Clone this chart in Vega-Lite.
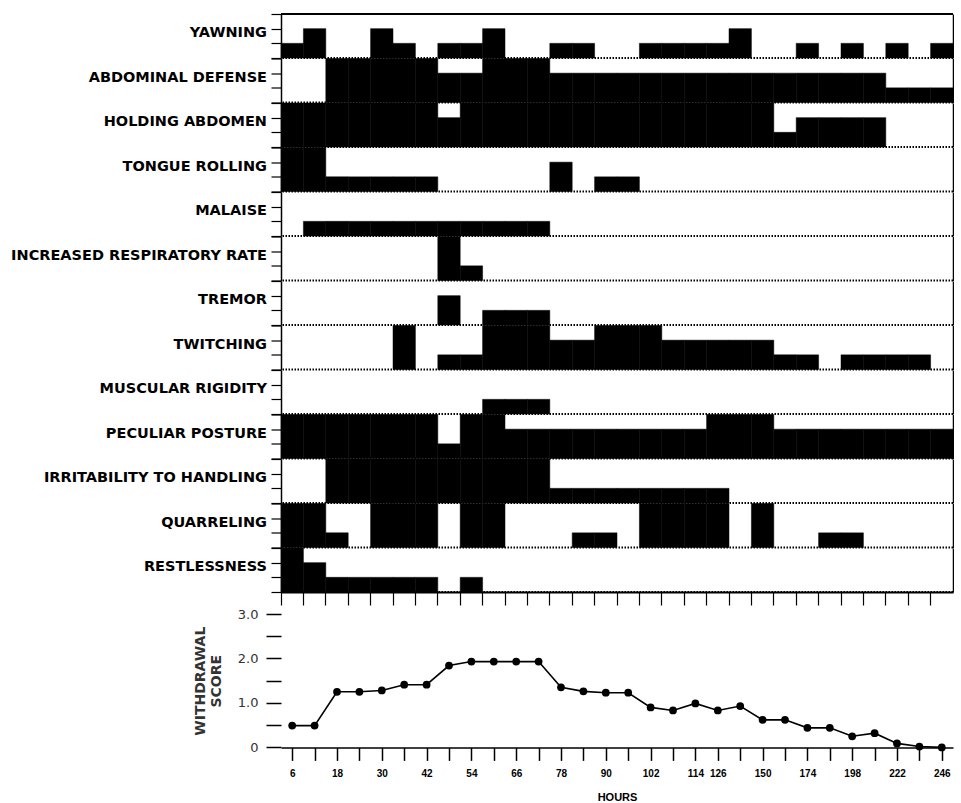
{
"$schema": "https://vega.github.io/schema/vega-lite/v6.json",
"background": "white",
"padding": {"left": 11, "top": 13, "right": 0, "bottom": 0},
"spacing": 2,
"config": {"view": {"stroke": null}, "font": "DejaVu Sans", "axis": {"domainColor": "black", "tickColor": "black", "labelColor": "black", "titleColor": "black"}},
"datasets": {
"symptoms": [
{"symptom":"YAWNING","hour":6,"level":1},{"symptom":"YAWNING","hour":12,"level":2},{"symptom":"YAWNING","hour":30,"level":2},{"symptom":"YAWNING","hour":36,"level":1},{"symptom":"YAWNING","hour":48,"level":1},{"symptom":"YAWNING","hour":54,"level":1},{"symptom":"YAWNING","hour":60,"level":2},{"symptom":"YAWNING","hour":78,"level":1},{"symptom":"YAWNING","hour":84,"level":1},{"symptom":"YAWNING","hour":102,"level":1},{"symptom":"YAWNING","hour":108,"level":1},{"symptom":"YAWNING","hour":114,"level":1},{"symptom":"YAWNING","hour":126,"level":1},{"symptom":"YAWNING","hour":138,"level":2},{"symptom":"YAWNING","hour":174,"level":1},{"symptom":"YAWNING","hour":198,"level":1},{"symptom":"YAWNING","hour":222,"level":1},{"symptom":"YAWNING","hour":246,"level":1},
{"symptom":"ABDOMINAL DEFENSE","hour":18,"level":3},{"symptom":"ABDOMINAL DEFENSE","hour":24,"level":3},{"symptom":"ABDOMINAL DEFENSE","hour":30,"level":3},{"symptom":"ABDOMINAL DEFENSE","hour":36,"level":3},{"symptom":"ABDOMINAL DEFENSE","hour":42,"level":3},{"symptom":"ABDOMINAL DEFENSE","hour":48,"level":2},{"symptom":"ABDOMINAL DEFENSE","hour":54,"level":2},{"symptom":"ABDOMINAL DEFENSE","hour":60,"level":3},{"symptom":"ABDOMINAL DEFENSE","hour":66,"level":3},{"symptom":"ABDOMINAL DEFENSE","hour":72,"level":3},{"symptom":"ABDOMINAL DEFENSE","hour":78,"level":2},{"symptom":"ABDOMINAL DEFENSE","hour":84,"level":2},{"symptom":"ABDOMINAL DEFENSE","hour":90,"level":2},{"symptom":"ABDOMINAL DEFENSE","hour":96,"level":2},{"symptom":"ABDOMINAL DEFENSE","hour":102,"level":2},{"symptom":"ABDOMINAL DEFENSE","hour":108,"level":2},{"symptom":"ABDOMINAL DEFENSE","hour":114,"level":2},{"symptom":"ABDOMINAL DEFENSE","hour":126,"level":2},{"symptom":"ABDOMINAL DEFENSE","hour":138,"level":2},{"symptom":"ABDOMINAL DEFENSE","hour":150,"level":2},{"symptom":"ABDOMINAL DEFENSE","hour":162,"level":2},{"symptom":"ABDOMINAL DEFENSE","hour":174,"level":2},{"symptom":"ABDOMINAL DEFENSE","hour":186,"level":2},{"symptom":"ABDOMINAL DEFENSE","hour":198,"level":2},{"symptom":"ABDOMINAL DEFENSE","hour":210,"level":2},{"symptom":"ABDOMINAL DEFENSE","hour":222,"level":1},{"symptom":"ABDOMINAL DEFENSE","hour":234,"level":1},{"symptom":"ABDOMINAL DEFENSE","hour":246,"level":1},
{"symptom":"HOLDING ABDOMEN","hour":6,"level":3},{"symptom":"HOLDING ABDOMEN","hour":12,"level":3},{"symptom":"HOLDING ABDOMEN","hour":18,"level":3},{"symptom":"HOLDING ABDOMEN","hour":24,"level":3},{"symptom":"HOLDING ABDOMEN","hour":30,"level":3},{"symptom":"HOLDING ABDOMEN","hour":36,"level":3},{"symptom":"HOLDING ABDOMEN","hour":42,"level":3},{"symptom":"HOLDING ABDOMEN","hour":48,"level":2},{"symptom":"HOLDING ABDOMEN","hour":54,"level":3},{"symptom":"HOLDING ABDOMEN","hour":60,"level":3},{"symptom":"HOLDING ABDOMEN","hour":66,"level":3},{"symptom":"HOLDING ABDOMEN","hour":72,"level":3},{"symptom":"HOLDING ABDOMEN","hour":78,"level":3},{"symptom":"HOLDING ABDOMEN","hour":84,"level":3},{"symptom":"HOLDING ABDOMEN","hour":90,"level":3},{"symptom":"HOLDING ABDOMEN","hour":96,"level":3},{"symptom":"HOLDING ABDOMEN","hour":102,"level":3},{"symptom":"HOLDING ABDOMEN","hour":108,"level":3},{"symptom":"HOLDING ABDOMEN","hour":114,"level":3},{"symptom":"HOLDING ABDOMEN","hour":126,"level":3},{"symptom":"HOLDING ABDOMEN","hour":138,"level":3},{"symptom":"HOLDING ABDOMEN","hour":150,"level":3},{"symptom":"HOLDING ABDOMEN","hour":162,"level":1},{"symptom":"HOLDING ABDOMEN","hour":174,"level":2},{"symptom":"HOLDING ABDOMEN","hour":186,"level":2},{"symptom":"HOLDING ABDOMEN","hour":198,"level":2},{"symptom":"HOLDING ABDOMEN","hour":210,"level":2},
{"symptom":"TONGUE ROLLING","hour":6,"level":3},{"symptom":"TONGUE ROLLING","hour":12,"level":3},{"symptom":"TONGUE ROLLING","hour":18,"level":1},{"symptom":"TONGUE ROLLING","hour":24,"level":1},{"symptom":"TONGUE ROLLING","hour":30,"level":1},{"symptom":"TONGUE ROLLING","hour":36,"level":1},{"symptom":"TONGUE ROLLING","hour":42,"level":1},{"symptom":"TONGUE ROLLING","hour":78,"level":2},{"symptom":"TONGUE ROLLING","hour":90,"level":1},{"symptom":"TONGUE ROLLING","hour":96,"level":1},
{"symptom":"MALAISE","hour":12,"level":1},{"symptom":"MALAISE","hour":18,"level":1},{"symptom":"MALAISE","hour":24,"level":1},{"symptom":"MALAISE","hour":30,"level":1},{"symptom":"MALAISE","hour":36,"level":1},{"symptom":"MALAISE","hour":42,"level":1},{"symptom":"MALAISE","hour":48,"level":1},{"symptom":"MALAISE","hour":54,"level":1},{"symptom":"MALAISE","hour":60,"level":1},{"symptom":"MALAISE","hour":66,"level":1},{"symptom":"MALAISE","hour":72,"level":1},
{"symptom":"INCREASED RESPIRATORY RATE","hour":48,"level":3},{"symptom":"INCREASED RESPIRATORY RATE","hour":54,"level":1},
{"symptom":"TREMOR","hour":48,"level":2},{"symptom":"TREMOR","hour":60,"level":1},{"symptom":"TREMOR","hour":66,"level":1},{"symptom":"TREMOR","hour":72,"level":1},
{"symptom":"TWITCHING","hour":36,"level":3},{"symptom":"TWITCHING","hour":48,"level":1},{"symptom":"TWITCHING","hour":54,"level":1},{"symptom":"TWITCHING","hour":60,"level":3},{"symptom":"TWITCHING","hour":66,"level":3},{"symptom":"TWITCHING","hour":72,"level":3},{"symptom":"TWITCHING","hour":78,"level":2},{"symptom":"TWITCHING","hour":84,"level":2},{"symptom":"TWITCHING","hour":90,"level":3},{"symptom":"TWITCHING","hour":96,"level":3},{"symptom":"TWITCHING","hour":102,"level":3},{"symptom":"TWITCHING","hour":108,"level":2},{"symptom":"TWITCHING","hour":114,"level":2},{"symptom":"TWITCHING","hour":126,"level":2},{"symptom":"TWITCHING","hour":138,"level":2},{"symptom":"TWITCHING","hour":150,"level":2},{"symptom":"TWITCHING","hour":162,"level":1},{"symptom":"TWITCHING","hour":174,"level":1},{"symptom":"TWITCHING","hour":198,"level":1},{"symptom":"TWITCHING","hour":210,"level":1},{"symptom":"TWITCHING","hour":222,"level":1},{"symptom":"TWITCHING","hour":234,"level":1},
{"symptom":"MUSCULAR RIGIDITY","hour":60,"level":1},{"symptom":"MUSCULAR RIGIDITY","hour":66,"level":1},{"symptom":"MUSCULAR RIGIDITY","hour":72,"level":1},
{"symptom":"PECULIAR POSTURE","hour":6,"level":3},{"symptom":"PECULIAR POSTURE","hour":12,"level":3},{"symptom":"PECULIAR POSTURE","hour":18,"level":3},{"symptom":"PECULIAR POSTURE","hour":24,"level":3},{"symptom":"PECULIAR POSTURE","hour":30,"level":3},{"symptom":"PECULIAR POSTURE","hour":36,"level":3},{"symptom":"PECULIAR POSTURE","hour":42,"level":3},{"symptom":"PECULIAR POSTURE","hour":48,"level":1},{"symptom":"PECULIAR POSTURE","hour":54,"level":3},{"symptom":"PECULIAR POSTURE","hour":60,"level":3},{"symptom":"PECULIAR POSTURE","hour":66,"level":2},{"symptom":"PECULIAR POSTURE","hour":72,"level":2},{"symptom":"PECULIAR POSTURE","hour":78,"level":2},{"symptom":"PECULIAR POSTURE","hour":84,"level":2},{"symptom":"PECULIAR POSTURE","hour":90,"level":2},{"symptom":"PECULIAR POSTURE","hour":96,"level":2},{"symptom":"PECULIAR POSTURE","hour":102,"level":2},{"symptom":"PECULIAR POSTURE","hour":108,"level":2},{"symptom":"PECULIAR POSTURE","hour":114,"level":2},{"symptom":"PECULIAR POSTURE","hour":126,"level":3},{"symptom":"PECULIAR POSTURE","hour":138,"level":3},{"symptom":"PECULIAR POSTURE","hour":150,"level":3},{"symptom":"PECULIAR POSTURE","hour":162,"level":2},{"symptom":"PECULIAR POSTURE","hour":174,"level":2},{"symptom":"PECULIAR POSTURE","hour":186,"level":2},{"symptom":"PECULIAR POSTURE","hour":198,"level":2},{"symptom":"PECULIAR POSTURE","hour":210,"level":2},{"symptom":"PECULIAR POSTURE","hour":222,"level":2},{"symptom":"PECULIAR POSTURE","hour":234,"level":2},{"symptom":"PECULIAR POSTURE","hour":246,"level":2},
{"symptom":"IRRITABILITY TO HANDLING","hour":18,"level":3},{"symptom":"IRRITABILITY TO HANDLING","hour":24,"level":3},{"symptom":"IRRITABILITY TO HANDLING","hour":30,"level":3},{"symptom":"IRRITABILITY TO HANDLING","hour":36,"level":3},{"symptom":"IRRITABILITY TO HANDLING","hour":42,"level":3},{"symptom":"IRRITABILITY TO HANDLING","hour":48,"level":3},{"symptom":"IRRITABILITY TO HANDLING","hour":54,"level":3},{"symptom":"IRRITABILITY TO HANDLING","hour":60,"level":3},{"symptom":"IRRITABILITY TO HANDLING","hour":66,"level":3},{"symptom":"IRRITABILITY TO HANDLING","hour":72,"level":3},{"symptom":"IRRITABILITY TO HANDLING","hour":78,"level":1},{"symptom":"IRRITABILITY TO HANDLING","hour":84,"level":1},{"symptom":"IRRITABILITY TO HANDLING","hour":90,"level":1},{"symptom":"IRRITABILITY TO HANDLING","hour":96,"level":1},{"symptom":"IRRITABILITY TO HANDLING","hour":102,"level":1},{"symptom":"IRRITABILITY TO HANDLING","hour":108,"level":1},{"symptom":"IRRITABILITY TO HANDLING","hour":114,"level":1},{"symptom":"IRRITABILITY TO HANDLING","hour":126,"level":1},
{"symptom":"QUARRELING","hour":6,"level":3},{"symptom":"QUARRELING","hour":12,"level":3},{"symptom":"QUARRELING","hour":18,"level":1},{"symptom":"QUARRELING","hour":30,"level":3},{"symptom":"QUARRELING","hour":36,"level":3},{"symptom":"QUARRELING","hour":42,"level":3},{"symptom":"QUARRELING","hour":54,"level":3},{"symptom":"QUARRELING","hour":60,"level":3},{"symptom":"QUARRELING","hour":84,"level":1},{"symptom":"QUARRELING","hour":90,"level":1},{"symptom":"QUARRELING","hour":102,"level":3},{"symptom":"QUARRELING","hour":108,"level":3},{"symptom":"QUARRELING","hour":114,"level":3},{"symptom":"QUARRELING","hour":126,"level":3},{"symptom":"QUARRELING","hour":150,"level":3},{"symptom":"QUARRELING","hour":186,"level":1},{"symptom":"QUARRELING","hour":198,"level":1},
{"symptom":"RESTLESSNESS","hour":6,"level":3},{"symptom":"RESTLESSNESS","hour":12,"level":2},{"symptom":"RESTLESSNESS","hour":18,"level":1},{"symptom":"RESTLESSNESS","hour":24,"level":1},{"symptom":"RESTLESSNESS","hour":30,"level":1},{"symptom":"RESTLESSNESS","hour":36,"level":1},{"symptom":"RESTLESSNESS","hour":42,"level":1},{"symptom":"RESTLESSNESS","hour":54,"level":1}
],
"score": [
{"hour":6,"score":0.49},{"hour":12,"score":0.49},{"hour":18,"score":1.25},{"hour":24,"score":1.25},{"hour":30,"score":1.28},{"hour":36,"score":1.41},{"hour":42,"score":1.41},{"hour":48,"score":1.84},{"hour":54,"score":1.93},{"hour":60,"score":1.93},{"hour":66,"score":1.93},{"hour":72,"score":1.93},{"hour":78,"score":1.35},{"hour":84,"score":1.26},{"hour":90,"score":1.23},{"hour":96,"score":1.23},{"hour":102,"score":0.9},{"hour":108,"score":0.83},{"hour":114,"score":0.99},{"hour":126,"score":0.83},{"hour":138,"score":0.93},{"hour":150,"score":0.62},{"hour":162,"score":0.62},{"hour":174,"score":0.44},{"hour":186,"score":0.44},{"hour":198,"score":0.25},{"hour":210,"score":0.32},{"hour":222,"score":0.09},{"hour":234,"score":0.02},{"hour":246,"score":0.0}
]
},
"vconcat": [
{
"data": {"name": "symptoms"},
"facet": {"row": {"field": "symptom", "type": "nominal",
  "sort": ["YAWNING","ABDOMINAL DEFENSE","HOLDING ABDOMEN","TONGUE ROLLING","MALAISE","INCREASED RESPIRATORY RATE","TREMOR","TWITCHING","MUSCULAR RIGIDITY","PECULIAR POSTURE","IRRITABILITY TO HANDLING","QUARRELING","RESTLESSNESS"],
  "header": {"title": null, "labels": false}}},
"spacing": {"row": 0.5},
"bounds": "flush",
"spec": {
  "width": 672, "height": 44,
  "resolve": {"axis": {"x": "independent", "y": "independent"}},
  "layer": [
    {"mark": {"type": "bar", "color": "black", "stroke": "black", "strokeWidth": 0.5},
     "encoding": {
       "x": {"field": "hour", "type": "ordinal",
             "scale": {"domain": [6,12,18,24,30,36,42,48,54,60,66,72,78,84,90,96,102,108,114,126,138,150,162,174,186,198,210,222,234,246], "paddingInner": 0, "paddingOuter": 0},
             "axis": {"bandPosition": 0, "labels": false, "title": null, "tickSize": 13, "tickWidth": 1.2, "domainWidth": 2, "grid": false}},
       "y": {"field": "level", "type": "quantitative", "scale": {"domain": [0, 3], "nice": false},
             "axis": {"values": [0, 1, 2, 3], "labels": false, "title": null, "tickSize": 10, "tickWidth": 1.2, "domainWidth": 1.5, "grid": false}}
     }},
    {"transform": [{"aggregate": [{"op": "count", "as": "n"}], "groupby": ["symptom"]}],
     "mark": {"type": "rule", "color": "black", "strokeWidth": 2, "strokeDash": [1.5, 1.5]},
     "encoding": {"y": {"datum": 0, "type": "quantitative", "axis": {"orient": "right", "labels": false, "ticks": false, "title": null, "grid": false, "domainWidth": 1.5}}}},
    {"transform": [{"aggregate": [{"op": "count", "as": "n"}], "groupby": ["symptom"]}],
     "mark": {"type": "text", "align": "right", "baseline": "middle", "dx": -14, "font": "DejaVu Sans", "fontWeight": "bold", "fontSize": 14.5, "color": "black"},
     "encoding": {"text": {"field": "symptom"}, "x": {"datum": 6, "type": "ordinal", "bandPosition": 0, "axis": null}, "y": {"datum": 1.68, "type": "quantitative", "axis": null}}},
    {"transform": [{"filter": "datum.symptom === 'YAWNING'"}, {"aggregate": [{"op": "count", "as": "n"}], "groupby": ["symptom"]}],
     "mark": {"type": "rule", "color": "black", "strokeWidth": 2},
     "encoding": {"y": {"datum": 3, "type": "quantitative", "axis": null}}}
  ]
}
},
{
"data": {"name": "score"},
"width": 672, "height": 133.4,
"encoding": {
  "x": {"field": "hour", "type": "ordinal", "bandPosition": 1,
        "scale": {"domain": [6,12,18,24,30,36,42,48,54,60,66,72,78,84,90,96,102,108,114,126,138,150,162,174,186,198,210,222,234,246], "paddingInner": 0, "paddingOuter": 0},
        "axis": {"bandPosition": 1, "title": "HOURS", "titleFont": "Liberation Sans", "titleFontWeight": "bold", "titleFontSize": 11, "titlePadding": 13,
                 "labelFont": "Liberation Sans", "labelFontWeight": "bold", "labelFontSize": 10, "labelAngle": 0, "labelPadding": 8,
                 "labelExpr": "indexof([6,18,30,42,54,66,78,90,102,114,126,150,174,198,222,246], datum.value) >= 0 ? datum.label : ''",
                 "labelOverlap": false, "labelFlush": false, "tickSize": 13, "tickWidth": 1.5, "domainWidth": 1.5, "grid": false}},
  "y": {"field": "score", "type": "quantitative", "scale": {"domain": [0, 3], "nice": false},
        "axis": {"values": [0, 0.5, 1, 1.5, 2, 2.5, 3], "labelExpr": "datum.value === 0 ? '0' : (datum.value % 1 === 0 ? format(datum.value, '.1f') : '')",
                 "domain": false, "tickSize": 15, "tickWidth": 1.5, "grid": false, "labelFont": "DejaVu Sans", "labelFontSize": 13, "labelPadding": 8, "labelColor": "#333",
                 "title": ["WITHDRAWAL", "SCORE"], "titleFont": "DejaVu Sans", "titleFontSize": 14, "titleFontWeight": "bold", "titleColor": "#333", "titlePadding": 14}}
},
"layer": [
  {"mark": {"type": "line", "color": "black", "strokeWidth": 1.6}},
  {"mark": {"type": "point", "filled": true, "color": "black", "size": 60, "opacity": 1}}
]
}
]
}
